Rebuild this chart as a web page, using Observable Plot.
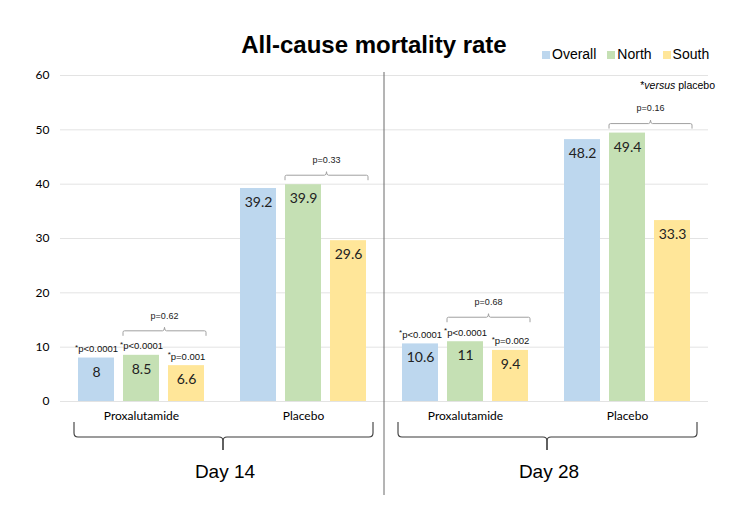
<!DOCTYPE html>
<html><head><meta charset="utf-8">
<script src="https://cdn.jsdelivr.net/npm/d3@7"></script>
<script src="https://cdn.jsdelivr.net/npm/@observablehq/plot@0.6"></script>
<style>
body{margin:0;background:#fff;}
#wrap{position:relative;width:750px;height:519px;overflow:hidden;}
#title{position:absolute;left:0;width:748px;top:31px;text-align:center;font:bold 24px "Liberation Sans",Arial,sans-serif;color:#000;}
#legend{position:absolute;left:542px;top:46px;font:14px "Liberation Sans",Arial,sans-serif;color:#000;white-space:nowrap;}
#legend span.item{display:inline-block;margin-right:11px;}
#legend span.sw{display:inline-block;width:8px;height:8px;margin-right:2px;vertical-align:0px;}
#note{position:absolute;right:35px;top:79px;font:10.5px "Liberation Sans",Arial,sans-serif;color:#000;}
</style></head>
<body>
<div id="wrap">
  <div id="chart"></div>
  <div id="title">All-cause mortality rate</div>
  <div id="legend"></div>
  <div id="note">*<i>versus</i> placebo</div>
</div>
<script>
const series = ["Overall", "North", "South"];
const colors = ["#bdd7ee", "#c5e0b4", "#ffe699"];
const days = ["Day 14", "Day 28"];
const arms = ["Proxalutamide", "Placebo"];
const day14Proxalutamide = [8, 8.5, 6.6];
const day14Placebo = [39.2, 39.9, 29.6];
const day28Proxalutamide = [10.6, 11, 9.4];
const day28Placebo = [48.2, 49.4, 33.3];
const day14VersusPlacebo = ["p<0.0001", "p<0.0001", "p=0.001"];
const day28VersusPlacebo = ["p<0.0001", "p<0.0001", "p=0.002"];
const northVsSouthP = ["p=0.62", "p=0.33", "p=0.68", "p=0.16"];
const yTicks = [0, 10, 20, 30, 40, 50, 60];

// build tables
const groupValues = [day14Proxalutamide, day14Placebo, day28Proxalutamide, day28Placebo];
const groupStars = [day14VersusPlacebo, null, day28VersusPlacebo, null];
const groups = [];
days.forEach(day => arms.forEach(arm => groups.push({key: day + "|" + arm, day, arm})));
const bars = [];
const stars = [];
groups.forEach((g, gi) => {
  series.forEach((s, si) => {
    bars.push({key: g.key, series: s, value: groupValues[gi][si]});
    if (groupStars[gi]) stars.push({key: g.key, series: s, value: groupValues[gi][si], p: groupStars[gi][si]});
  });
  g.p = northVsSouthP[gi];
  g.top = Math.max(groupValues[gi][1], groupValues[gi][2]);
  g.starred = !!groupStars[gi];
});

// legend
const legend = document.getElementById("legend");
series.forEach((s, i) => {
  const it = document.createElement("span");
  it.className = "item";
  it.innerHTML = `<span class="sw" style="background:${colors[i]}"></span>${s}`;
  legend.appendChild(it);
});

const bracketMark = Plot.dot(groups, {
  fx: "key",
  frameAnchor: "middle",
  render: (I, scales, values, dims) => {
    const g = d3.create("svg:g");
    const bw = scales.x.bandwidth();
    for (const i of I) {
      const d = groups[i];
      const x1 = scales.x("North");
      const x2 = scales.x("South") + bw + 2;
      const xm = (x1 + x2) / 2;
      const y = scales.y(d.top) - (d.starred ? 24 : 9);
      g.append("path")
        .attr("d", `M${x1},${y + 5}V${y + 1.5}Q${x1},${y} ${x1 + 1.5},${y}H${xm - 2}Q${xm},${y} ${xm},${y - 3.5}Q${xm},${y} ${xm + 2},${y}H${x2 - 1.5}Q${x2},${y} ${x2},${y + 1.5}V${y + 5}`)
        .attr("fill", "none").attr("stroke", "#a0a0a0").attr("stroke-width", 1);
      g.append("text").attr("x", xm).attr("y", y - 15).attr("dy", "0.32em")
        .attr("text-anchor", "middle").attr("font-size", 9)
        .attr("font-family", "'Liberation Sans', Arial, sans-serif").attr("fill", "#222")
        .text(d.p);
    }
    return g.node();
  }
});

const braceMark = Plot.dot(groups, {
  fx: "key",
  frameAnchor: "middle",
  render: (I, scales, values, dims) => {
    const g = d3.create("svg:g");
    const bw = scales.x.bandwidth();
    const yb = dims.height - dims.marginBottom;
    const yt = yb + 21, yh = yb + 36, ytip = yb + 49;
    for (const i of I) {
      const d = groups[i];
      let path;
      if (d.arm === arms[0]) {
        const xl = scales.x(series[0]) - 4;
        const xb = dims.width - dims.marginRight + 1;
        path = `M${xl},${yt}V${yh - 4}Q${xl},${yh} ${xl + 4},${yh}H${xb - 4}Q${xb},${yh} ${xb},${yh + 4}V${ytip}`;
        g.append("text").attr("x", xb + 2).attr("y", yb + 77)
          .attr("text-anchor", "middle").attr("font-size", 19)
          .attr("font-family", "'Liberation Sans', Arial, sans-serif").attr("fill", "#000")
          .text(d.day);
        if (d.day === days[1]) {
          const xs = dims.marginLeft;
          g.append("line").attr("x1", xs).attr("x2", xs)
            .attr("y1", dims.marginTop - 3).attr("y2", yb + 94)
            .attr("stroke", "#6b6b6b").attr("stroke-width", 1);
        }
      } else {
        const xr = scales.x(series[2]) + bw + 7;
        const xb = dims.marginLeft + 1;
        path = `M${xr},${yt}V${yh - 4}Q${xr},${yh} ${xr - 4},${yh}H${xb + 4}Q${xb},${yh} ${xb},${yh + 4}V${ytip}`;
      }
      g.append("path").attr("d", path).attr("fill", "none")
        .attr("stroke", "#3a3a3a").attr("stroke-width", 1.1);
    }
    return g.node();
  }
});

const starRender = (I, scales, values, dims, ctx, next) => {
  const node = next(I, scales, values, dims, ctx);
  d3.select(node).selectAll("text").each(function () {
    const t = this.textContent;
    this.textContent = "";
    const sel = d3.select(this);
    sel.append("tspan").attr("font-size", 8).attr("dy", -2.5).text("*");
    sel.append("tspan").attr("dy", 2.5).text(t);
  });
  return node;
};

const chart = Plot.plot({
  width: 750,
  height: 519,
  marginLeft: 60,
  marginRight: 42,
  marginTop: 75,
  marginBottom: 118,
  style: {fontFamily: "Lato, 'Open Sans', sans-serif", fontSize: "12px", color: "#000", background: "transparent"},
  fx: {domain: groups.map(g => g.key), padding: 0, axis: "bottom", label: null,
       tickFormat: k => k.split("|")[1], tickSize: 0, tickPadding: 10},
  x: {domain: series, paddingInner: 0.2, paddingOuter: 0.4, axis: null},
  y: {domain: [0, 60], ticks: yTicks, tickSize: 0, tickPadding: 11, label: null, grid: false},
  color: {domain: series, range: colors},
  marks: [
    Plot.gridY(yTicks, {stroke: "#e3e3e3", strokeOpacity: 1, strokeWidth: 1}),
    Plot.barY(bars, {fx: "key", x: "series", y: "value", fill: "series"}),
    Plot.text(bars, {fx: "key", x: "series", y: "value", text: d => String(d.value),
      dy: 14, fontSize: 14, fill: "#222"}),
    Plot.text(stars, {fx: "key", x: "series", y: "value", text: "p", dy: -9, fontSize: 9.5,
      fontFamily: "'Liberation Sans', Arial, sans-serif", fill: "#111", render: starRender}),
    bracketMark,
    braceMark
  ]
});
document.getElementById("chart").appendChild(chart);
</script>
</body></html>
